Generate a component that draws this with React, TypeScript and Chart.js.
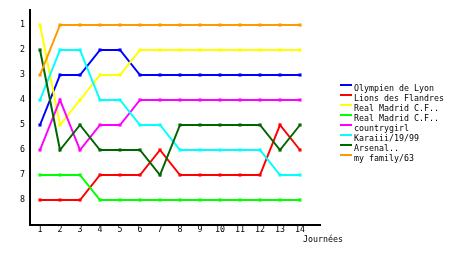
import React, { useEffect, useRef } from "react";
import { Chart, registerables } from "chart.js";

Chart.register(...registerables);

const journees = [1, 2, 3, 4, 5, 6, 7, 8, 9, 10, 11, 12, 13, 14];
const rankTicks = [1, 2, 3, 4, 5, 6, 7, 8];

const teamNames = [
  "Olympien de Lyon",
  "Lions des Flandres",
  "Real Madrid C.F..",
  "Real Madrid C.F..",
  "countrygirl",
  "Karaiii/19/99",
  "Arsenal..",
  "my family/63",
];

const olympienLyon = [5, 3, 3, 2, 2, 3, 3, 3, 3, 3, 3, 3, 3, 3];
const lionsFlandres = [8, 8, 8, 7, 7, 7, 6, 7, 7, 7, 7, 7, 5, 6];
const realMadridA = [1, 5, 4, 3, 3, 2, 2, 2, 2, 2, 2, 2, 2, 2];
const realMadridB = [7, 7, 7, 8, 8, 8, 8, 8, 8, 8, 8, 8, 8, 8];
const countrygirl = [6, 4, 6, 5, 5, 4, 4, 4, 4, 4, 4, 4, 4, 4];
const karaiii = [4, 2, 2, 4, 4, 5, 5, 6, 6, 6, 6, 6, 7, 7];
const arsenal = [2, 6, 5, 6, 6, 6, 7, 5, 5, 5, 5, 5, 6, 5];
const myFamily = [3, 1, 1, 1, 1, 1, 1, 1, 1, 1, 1, 1, 1, 1];

const seriesValues = [
  olympienLyon,
  lionsFlandres,
  realMadridA,
  realMadridB,
  countrygirl,
  karaiii,
  arsenal,
  myFamily,
];

const colors = [
  "#0000ff",
  "#ff0000",
  "#ffff00",
  "#00ff00",
  "#ff00ff",
  "#00ffff",
  "#006600",
  "#ff9900",
];

const xTitle = "Journées";
const FONT = "DejaVu Sans Mono";

export default function App() {
  const ref = useRef<HTMLCanvasElement | null>(null);

  useEffect(() => {
    const canvas = ref.current;
    if (!canvas) return;

    const legendPlugin = {
      id: "customLegend",
      afterDraw(chart: any) {
        const ctx = chart.ctx;
        ctx.save();
        ctx.font = `8.3px "${FONT}"`;
        ctx.textBaseline = "alphabetic";
        ctx.textAlign = "left";
        chart.data.datasets.forEach((ds: any, i: number) => {
          const y = 85 + i * 10;
          ctx.strokeStyle = ds.borderColor;
          ctx.lineWidth = 2;
          ctx.beginPath();
          ctx.moveTo(340, y);
          ctx.lineTo(352, y);
          ctx.stroke();
          ctx.fillStyle = "#000";
          ctx.fillText(ds.label, 354, y + 6);
        });
        ctx.fillText(xTitle, 303, 242);
        ctx.restore();
      },
    };

    const chart = new Chart(canvas, {
      type: "line",
      data: {
        datasets: seriesValues.map((vals, i) => ({
          label: teamNames[i],
          data: vals.map((v, j) => ({ x: journees[j], y: v })),
          borderColor: colors[i],
          backgroundColor: colors[i],
          borderWidth: 2,
          pointStyle: "rect",
          pointRadius: 2.2,
          pointBorderWidth: 0,
          pointHoverRadius: 2.2,
          tension: 0,
          fill: false,
          order: seriesValues.length - i,
        })),
      },
      options: {
        animation: false,
        responsive: false,
        events: [],
        layout: { padding: { top: 10, right: 140, left: 0, bottom: 0 } },
        plugins: {
          legend: { display: false },
          tooltip: { enabled: false },
          title: { display: false },
        },
        scales: {
          x: {
            type: "linear",
            min: 0.5,
            max: 15,
            grid: { display: false, drawTicks: false },
            border: { display: true, color: "#000", width: 2 },
            ticks: {
              color: "#000",
              font: { family: FONT, size: 8.3 },
              padding: 0,
              autoSkip: false,
              maxRotation: 0,
            },
            afterBuildTicks: (scale: any) => {
              scale.ticks = journees.map((v) => ({ value: v }));
            },
            afterFit: (scale: any) => {
              scale.height = 30;
            },
          },
          y: {
            type: "linear",
            reverse: true,
            min: 0.4,
            max: 9,
            grid: { display: false, drawTicks: false },
            border: { display: true, color: "#000", width: 2 },
            ticks: {
              color: "#000",
              font: { family: FONT, size: 8.3 },
              padding: 5,
              autoSkip: false,
            },
            afterBuildTicks: (scale: any) => {
              scale.ticks = rankTicks.map((v) => ({ value: v }));
            },
            afterFit: (scale: any) => {
              scale.width = 30;
            },
          },
        },
      },
      plugins: [legendPlugin],
    });

    return () => chart.destroy();
  }, []);

  return (
    <div style={{ position: "absolute", left: 0, top: 0, width: 460, height: 255, background: "#fff" }}>
      <canvas ref={ref} width={460} height={255} style={{ display: "block" }} />
    </div>
  );
}
